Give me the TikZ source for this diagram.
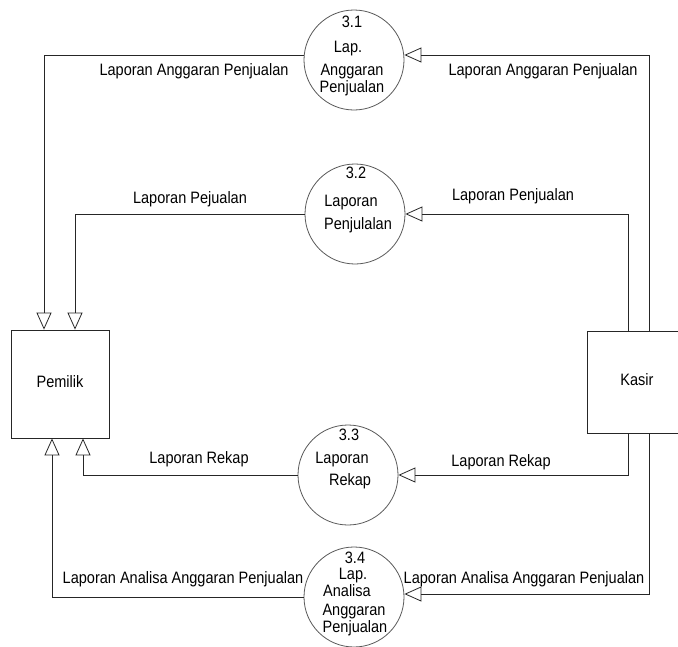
\documentclass[tikz,border=0pt]{standalone}
\usepackage{fontspec}
\setmainfont[FakeStretch=0.88]{Liberation Sans}
\usetikzlibrary{arrows.meta}

\tikzset{
  flow/.style={draw=black!85, line width=0.8pt, -{Triangle[open, length=17pt, width=15pt]}},
  entity/.style={draw=black!85, line width=0.8pt, rectangle},
  proc/.style={draw=black!65, line width=0.8pt, circle, minimum size=100pt, inner sep=0pt},
  lbl/.style={inner sep=0pt, text height=1.5ex, text depth=.25ex, font=\fontsize{16.5}{18}\selectfont}
}

\begin{document}
\begin{tikzpicture}[x=1pt, y=-1pt]
\useasboundingbox (0,0) rectangle (678,646);

% entities
\node[entity, minimum width=98pt, minimum height=108pt, lbl] (pemilik) at (60,384) {Pemilik};
\node[entity, minimum width=100pt, minimum height=102pt, lbl] (kasir) at (637,382) {Kasir};

% processes
\node[proc] (p31) at (354,60) {};
\node[proc] (p32) at (355,214) {};
\node[proc] (p33) at (348,475) {};
\node[proc] (p34) at (354,597) {};

\foreach \x/\y/\s [count=\i] in {352/24/3.1, 348/49/Lap., 352/72/Anggaran, 352/89/Penjualan}
  \node[lbl] (t31-\i) at (\x,\y) {\s};
\foreach \x/\y/\s [count=\i] in {356/175/3.2, 351/203/Laporan, 358/226/Penjulalan}
  \node[lbl] (t32-\i) at (\x,\y) {\s};
\foreach \x/\y/\s [count=\i] in {349/437/3.3, 342/460/Laporan, 350/482/Rekap}
  \node[lbl] (t33-\i) at (\x,\y) {\s};
\foreach \x/\y/\s [count=\i] in {355/560/3.4, 353/576/Lap., 347/593/Analisa, 354/612/Anggaran, 355/629/Penjualan}
  \node[lbl] (t34-\i) at (\x,\y) {\s};

% flows
\draw[flow] ([xshift=12pt]kasir.north) |- ([yshift=5pt]p31.east);
\draw[flow] ([yshift=5pt]p31.west) -| ([xshift=-16pt]pemilik.north);
\draw[flow] ([xshift=-9pt]kasir.north) |- (p32.east);
\draw[flow] (p32.west) -| ([xshift=15pt]pemilik.north);
\draw[flow] ([xshift=-9pt]kasir.south) |- (p33.east);
\draw[flow] (p33.west) -| ([xshift=23pt]pemilik.south);
\draw[flow] ([xshift=12pt]kasir.south) |- ([yshift=3pt]p34.east);
\draw[flow] (p34.west) -| ([xshift=-8pt]pemilik.south);

% flow labels
\node[lbl] (la1) at (194,72) {Laporan Anggaran Penjualan};
\node[lbl] (la2) at (543,72) {Laporan Anggaran Penjualan};
\node[lbl] (lp1) at (190,200) {Laporan Pejualan};
\node[lbl] (lp2) at (513,197) {Laporan Penjualan};
\node[lbl] (lr1) at (199,460) {Laporan Rekap};
\node[lbl] (lr2) at (501,463) {Laporan Rekap};
\node[lbl] (ln1) at (183,580) {Laporan Analisa Anggaran Penjualan};
\node[lbl] (ln2) at (524,580) {Laporan Analisa Anggaran Penjualan};
\end{tikzpicture}
\end{document}
